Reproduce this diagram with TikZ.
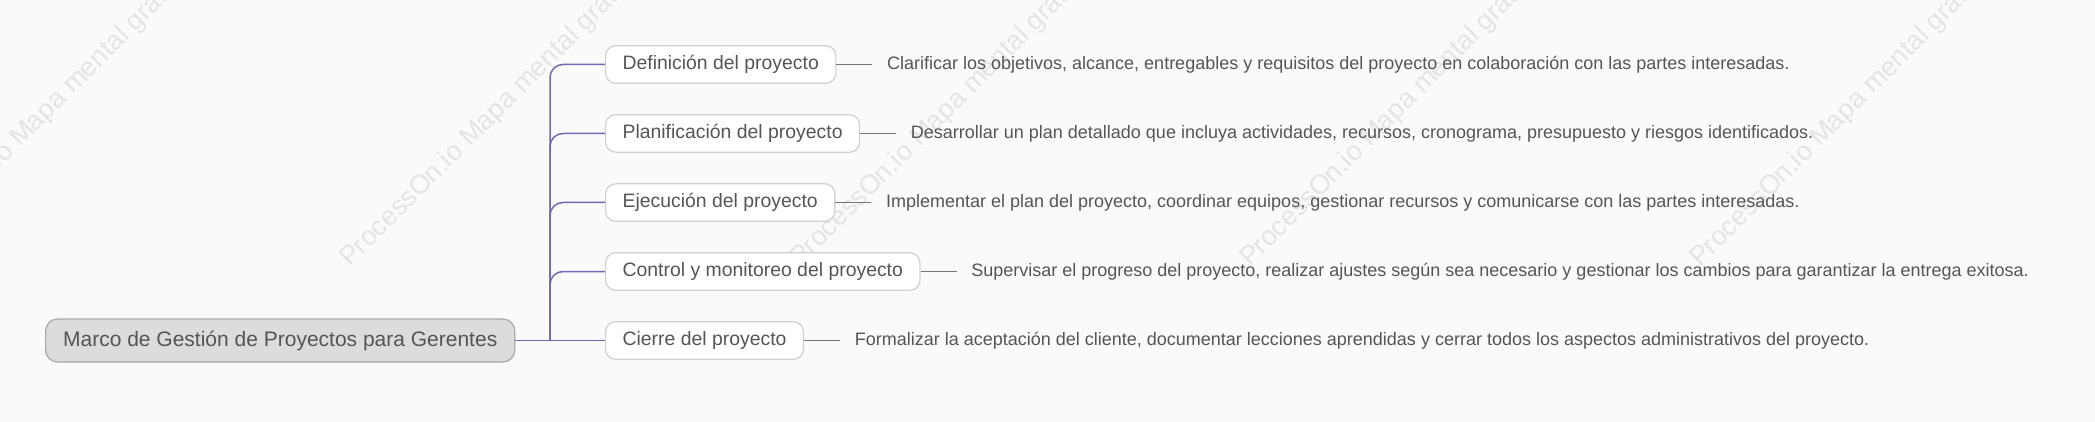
\documentclass[tikz,border=0pt]{standalone}
\usepackage{fontspec}
\setmainfont{Liberation Sans}
\definecolor{bgc}{HTML}{FAFAFA}
\definecolor{txt}{HTML}{555555}
\definecolor{rootfill}{HTML}{DCDCDC}
\definecolor{rootdraw}{HTML}{A9A9A9}
\definecolor{childdraw}{HTML}{CFCFCF}
\definecolor{purp}{HTML}{7468B2}
\definecolor{twigc}{HTML}{7A7470}
\definecolor{wmark}{HTML}{E4E4E4}
\tikzset{
  rootbox/.style={draw=rootdraw, fill=rootfill, line width=1.2pt, rounded corners=12pt,
    text=txt, font=\fontsize{21}{25}\selectfont, inner xsep=17.5pt, minimum height=43pt, anchor=west},
  childbox/.style={draw=childdraw, fill=white, line width=1.2pt, rounded corners=10pt,
    text=txt, font=\fontsize{19.4}{23}\selectfont, inner xsep=17pt, minimum height=37.5pt, anchor=west},
  desc/.style={text=txt, font=\fontsize{18}{22}\selectfont, inner xsep=14.5pt, anchor=west},
  conn/.style={draw=purp, line width=1.5pt},
  twig/.style={draw=twigc, line width=1.5pt},
  wm/.style={text=wmark, font=\fontsize{27}{30}\selectfont, rotate=45, anchor=base west, inner sep=0pt}
}
\begin{document}
\begin{tikzpicture}[x=1pt, y=-1pt]
\useasboundingbox (0,0) rectangle (2095,422);
\fill[bgc] (0,0) rectangle (2095,422);
% watermarks
\foreach \wx [count=\i] in {-100,350,800,1250,1700}
  \node[wm] (wm\i) at (\wx,268) {ProcessOn.io Mapa mental gratis};
% root
\node[rootbox] (root) at (45,340.5) {Marco de Gestión de Proyectos para Gerentes};
% children
\node[childbox] (c1) at (605,64.5) {Definición del proyecto};
\node[childbox] (c2) at (605,133.5) {Planificación del proyecto};
\node[childbox] (c3) at (605,202.5) {Ejecución del proyecto};
\node[childbox] (c4) at (605,271.5) {Control y monitoreo del proyecto};
\node[childbox] (c5) at (605,340.5) {Cierre del proyecto};
% connectors
\coordinate (tb) at (550,340.5);
\draw[conn] (root.east) -- (c5.west);
\foreach \c in {c1,c2,c3,c4}
  \draw[conn, rounded corners=13pt] (tb) |- (\c.west);
% descriptions
\path (c1.east) ++(36,0) node[desc] (d1) {Clarificar los objetivos, alcance, entregables y requisitos del proyecto en colaboración con las partes interesadas.};
\path (c2.east) ++(36,0) node[desc] (d2) {Desarrollar un plan detallado que incluya actividades, recursos, cronograma, presupuesto y riesgos identificados.};
\path (c3.east) ++(36,0) node[desc] (d3) {Implementar el plan del proyecto, coordinar equipos, gestionar recursos y comunicarse con las partes interesadas.};
\path (c4.east) ++(36,0) node[desc] (d4) {Supervisar el progreso del proyecto, realizar ajustes según sea necesario y gestionar los cambios para garantizar la entrega exitosa.};
\path (c5.east) ++(36,0) node[desc] (d5) {Formalizar la aceptación del cliente, documentar lecciones aprendidas y cerrar todos los aspectos administrativos del proyecto.};
\foreach \i in {1,...,5}
  \draw[twig] (c\i.east) -- ++(36,0);
\end{tikzpicture}
\end{document}
